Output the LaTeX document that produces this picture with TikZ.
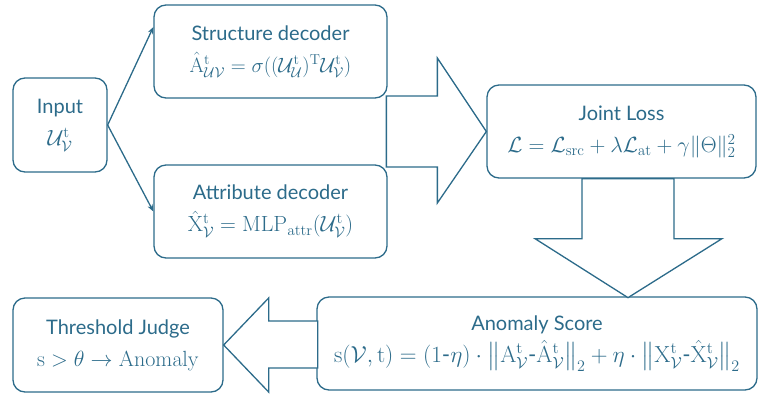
\documentclass[tikz,border=0pt]{standalone}
\usepackage{amsmath}
\usepackage{graphicx}
\usepackage[no-math]{fontspec}
\newfontfamily\lblfont{Lato}
\usetikzlibrary{arrows.meta,calc}
\definecolor{ink}{HTML}{2C6B8A}
\newcommand{\myt}{\mathrm{t}}
\newcommand{\mline}[2][1.06]{\scalebox{#1}{$#2$}}
\begin{document}
\begin{tikzpicture}[x=1pt,y=-1pt,
  box/.style={draw=ink, line width=1.3pt, rounded corners=12pt, text=ink, align=center,
    font=\lblfont\fontsize{20}{30}\selectfont, inner sep=0pt},
  link/.style={draw=ink, line width=1.3pt, -{Stealth[length=7pt,width=5.5pt]}},
  blockarrow/.style={draw=ink, fill=white, line width=1.3pt, line join=miter}]
\useasboundingbox (0,0) rectangle (759,394);

\node[box, minimum width=94pt, minimum height=94pt] (in) at (60,125)
  {Input\\[2pt] \mline{\mathcal{U}^{\myt}_{\mathcal{V}}}};
\node[box, minimum width=233pt, minimum height=93pt] (sd) at (270.5,51.5)
  {Structure decoder\\[2pt] \mline[1.0]{\hat{\mathrm{A}}^{\myt}_{\mathcal{U}\mathcal{V}}=\sigma((\mathcal{U}^{\myt}_{\mathcal{U}})^{\mathrm{T}}\mathcal{U}^{\myt}_{\mathcal{V}})}};
\node[box, minimum width=233pt, minimum height=93pt] (ad) at (270.5,211.5)
  {Attribute decoder\\[2pt] \mline{\hat{\mathrm{X}}^{\myt}_{\mathcal{V}}=\mathrm{MLP}_{\mathrm{attr}}(\mathcal{U}^{\myt}_{\mathcal{V}})}};
\node[box, minimum width=269pt, minimum height=93pt] (jl) at (621.5,131.5)
  {Joint Loss\\[2pt] \mline{\mathcal{L}=\mathcal{L}_{\mathrm{src}}+\lambda\mathcal{L}_{\mathrm{at}}+\gamma\|\Theta\|_2^2}};
\node[box, minimum width=440pt, minimum height=93pt] (as) at (537,343.5)
  {Anomaly Score\\[2pt] \mline[1.12]{\mathrm{s}(\mathcal{V},\myt)=(1\text{-}\eta)\cdot\bigl\|\mathrm{A}^{\myt}_{\mathcal{V}}\text{-}\hat{\mathrm{A}}^{\myt}_{\mathcal{V}}\bigr\|_2+\eta\cdot\bigl\|\mathrm{X}^{\myt}_{\mathcal{V}}\text{-}\hat{\mathrm{X}}^{\myt}_{\mathcal{V}}\bigr\|_2}};
\node[box, minimum width=210pt, minimum height=94pt] (th) at (118,345)
  {Threshold Judge\\[2pt] \mline{\mathrm{s}>\theta\rightarrow\mathrm{Anomaly}}};

\draw[link] (in.east) -- ($(sd.north west)!0.24!(sd.south west)$);
\draw[link] (in.east) -- (ad.west);

\draw[blockarrow] (jl.west) -- ([shift={(-49,-73.5)}]jl.west) -- ([shift={(-49,-35.5)}]jl.west)
  -- ([shift={(-100,-35.5)}]jl.west) -- ([shift={(-100,35.5)}]jl.west)
  -- ([shift={(-49,35.5)}]jl.west) -- ([shift={(-49,71.5)}]jl.west) -- cycle;

\draw[blockarrow] ([shift={(-39.5,0)}]jl.south) -- ([shift={(52.5,0)}]jl.south)
  -- ([shift={(52.5,60)}]jl.south) -- ([shift={(100.5,60)}]jl.south)
  -- ([shift={(6.5,119)}]jl.south) -- ([shift={(-86.5,60)}]jl.south)
  -- ([shift={(-39.5,60)}]jl.south) -- cycle;

\draw[blockarrow] (th.east) -- ([shift={(45,-47)}]th.east) -- ([shift={(45,-24)}]th.east)
  -- ([shift={(94,-24)}]th.east) -- ([shift={(94,23)}]th.east)
  -- ([shift={(45,23)}]th.east) -- ([shift={(45,47)}]th.east) -- cycle;
\end{tikzpicture}
\end{document}
